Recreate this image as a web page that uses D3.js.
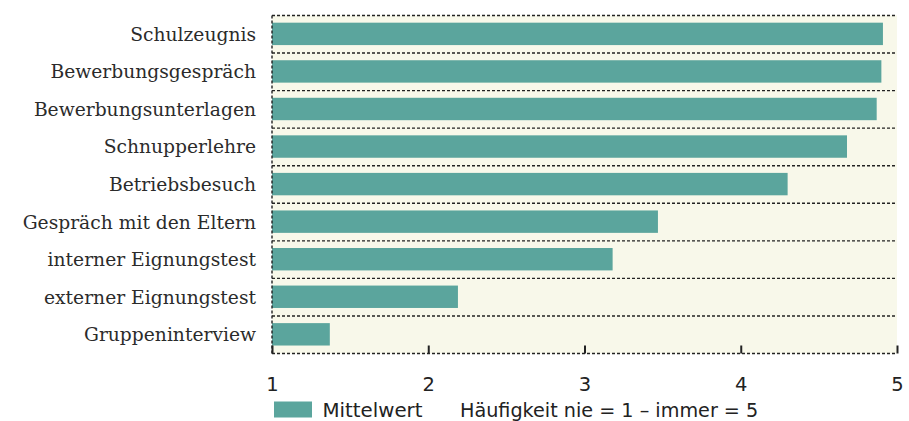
<!DOCTYPE html>
<html><head><meta charset="utf-8">
<script src="https://cdn.jsdelivr.net/npm/d3@7"></script>
<style>body{margin:0;background:#fff}svg{display:block}</style>
</head><body>
<svg id="c" width="909" height="421"></svg>
<script>
const categories = ["Schulzeugnis","Bewerbungsgespräch","Bewerbungsunterlagen","Schnupperlehre","Betriebsbesuch","Gespräch mit den Eltern","interner Eignungstest","externer Eignungstest","Gruppeninterview"];
const values = [4.91, 4.90, 4.87, 4.68, 4.30, 3.47, 3.18, 2.19, 1.37];
const tickValues = [1,2,3,4,5];
const legendLabel = "Mittelwert";
const legendNote = "Häufigkeit nie = 1 – immer = 5";

(function(){
const svg = d3.select("#c");
const pL = 272, pR = 897, pT = 15.5, pB = 353.5;
const x = d3.scaleLinear().domain([1,5]).range([pL,pR]);
const y = d3.scaleBand().domain(categories).range([pT,pB]).padding(0);
const step = y.step(), barH = 22.4;
const teal = "#5ba59d";

svg.append("rect").attr("x",pL).attr("y",pT).attr("width",pR-pL).attr("height",pB-pT).attr("fill","#f8f8ea");

svg.append("g").selectAll("rect").data(categories).join("rect")
  .attr("x",x(1)).attr("y",d=>y(d)+(step-barH)/2 - 0.4)
  .attr("width",(d,i)=>x(values[i])-x(1)).attr("height",barH).attr("fill",teal);

const lines = d3.range(categories.length+1).map(i=>pT+i*step);
svg.append("g").selectAll("line").data(lines).join("line")
  .attr("x1",pL).attr("x2",pR).attr("y1",d=>d).attr("y2",d=>d)
  .attr("stroke","#222").attr("stroke-width",1.4).attr("stroke-dasharray","3,2");
svg.append("line").attr("x1",pL).attr("x2",pL).attr("y1",pT).attr("y2",pB)
  .attr("stroke","#222").attr("stroke-width",1.4).attr("stroke-dasharray","3,2");

svg.append("g").selectAll("text").data(categories).join("text")
  .attr("x",256).attr("y",d=>y(d)+step/2+6.5).attr("text-anchor","end")
  .attr("font-family","'DejaVu Serif', serif").attr("font-size",18.7).attr("fill","#2b2b2b")
  .text(d=>d);

const ax = svg.append("g").attr("transform",`translate(0,${pB})`)
  .call(d3.axisBottom(x).tickValues(tickValues).tickFormat(d3.format("d")).tickSize(-8).tickPadding(24));
ax.select(".domain").remove();
ax.selectAll(".tick line").attr("stroke","#222").attr("stroke-width",2);
ax.selectAll(".tick text").attr("font-family","'DejaVu Sans', sans-serif").attr("font-size",19.5).attr("fill","#222");

svg.append("rect").attr("x",274).attr("y",401.5).attr("width",38).attr("height",16).attr("fill",teal);
svg.append("text").attr("x",322.5).attr("y",416.5).attr("font-family","'DejaVu Sans', sans-serif").attr("font-size",19.8).attr("fill","#222").text(legendLabel);
svg.append("text").attr("x",460).attr("y",416.5).attr("font-family","'DejaVu Sans', sans-serif").attr("font-size",19.2).attr("fill","#222").text(legendNote);
})();
</script>
</body></html>
